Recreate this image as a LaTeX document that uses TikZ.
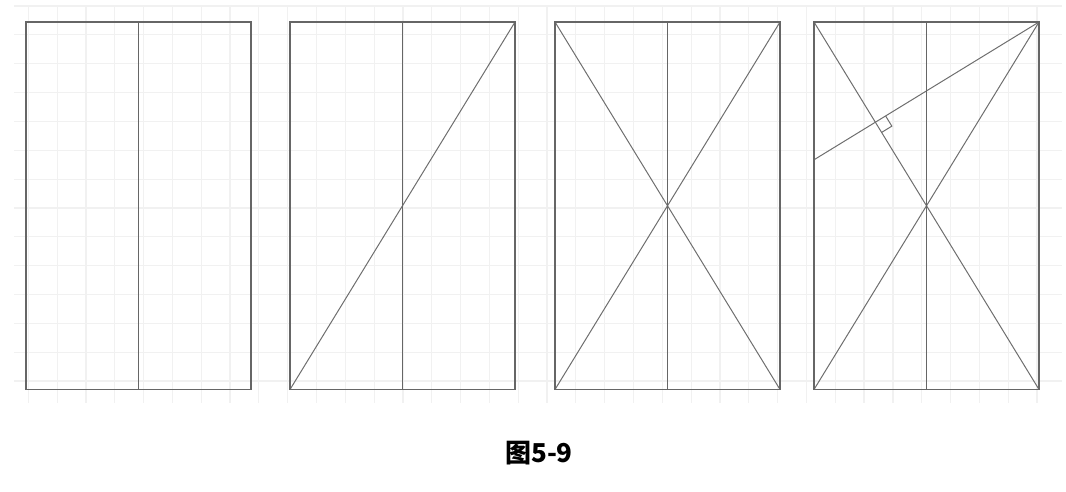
\documentclass[tikz,border=0pt]{standalone}
\usepackage{fontspec}
\newfontfamily\cjk{Noto Sans CJK SC}
\usetikzlibrary{calc}
\definecolor{gridc}{HTML}{F1F1F1}
\definecolor{framec}{HTML}{666666}
\definecolor{diagc}{HTML}{6E6E6E}
\tikzset{
  gridline/.style={draw=gridc, line width=0.9pt},
  frameline/.style={draw=framec, line width=0.95pt},
  diagline/.style={draw=diagc, line width=0.75pt},
  caption/.style={font=\cjk\bfseries\fontsize{19.5}{22}\selectfont, text=black, inner sep=0pt}
}
\begin{document}
\begin{tikzpicture}[x=0.75pt,y=-0.75pt]
\useasboundingbox (0,0) rectangle (1066,492);
% grid
\foreach \k in {0,...,35} {
  \draw[gridline] ({28.3+28.82*\k},6) -- ({28.3+28.82*\k},403);
}
\foreach \j in {0,...,13} {
  \draw[gridline] (14,{6+28.85*\j}) -- (1062,{6+28.85*\j});
}
% panels
\foreach \n/\L in {1/26,2/290,3/555,4/814} {
  \coordinate (tl\n) at (\L,22);
  \coordinate (tr\n) at (\L+225,22);
  \coordinate (bl\n) at (\L,389.5);
  \coordinate (br\n) at (\L+225,389.5);
  \coordinate (mt\n) at (\L+112.5,22);
  \coordinate (mb\n) at (\L+112.5,389.5);
}
% diagonals
\draw[diagline] (bl2) -- (tr2);
\draw[diagline] (bl3) -- (tr3);
\draw[diagline] (tl3) -- (br3);
\draw[diagline] (bl4) -- (tr4);
\draw[diagline] (tl4) -- (br4);
% perpendicular in panel 4
\coordinate (foot) at ($(tl4)!(tr4)!(br4)$);
\coordinate (lp) at (intersection of tr4--foot and tl4--bl4);
\draw[diagline] (tr4) -- (lp);
\coordinate (ma) at ($(foot)!9pt!(tr4)$);
\coordinate (mc) at ($(foot)!9pt!(br4)$);
\draw[diagline] (ma) -- ($(ma)+(mc)-(foot)$) -- (mc);
% frames and middle lines
\foreach \n in {1,2,3,4} {
  \draw[frameline] (tl\n) rectangle (br\n);
  \draw[frameline] (mt\n) -- (mb\n);
}
% caption
\node[caption] (cap) at (539,453) {图5-9};
\end{tikzpicture}
\end{document}
